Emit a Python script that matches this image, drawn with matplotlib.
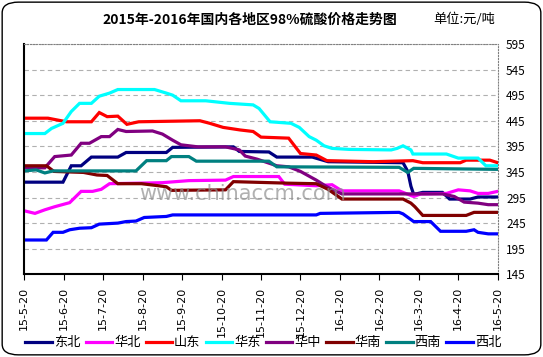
import matplotlib
matplotlib.use("Agg")
import matplotlib.pyplot as plt
from matplotlib.patches import FancyBboxPatch

plt.rcParams['font.family'] = ['Noto Sans CJK SC', 'DejaVu Sans']

# x = months since 2015-05-20, y = price (yuan/ton)
tick_labels = ['15-5-20', '15-6-20', '15-7-20', '15-8-20', '15-9-20', '15-10-20',
               '15-11-20', '15-12-20', '16-1-20', '16-2-20', '16-3-20', '16-4-20', '16-5-20']

dongbei_x = [0, 0.98, 1.19, 1.44, 1.7, 2.37, 2.58, 3.6, 3.76, 5.3, 5.45, 6.2, 6.4, 7.3, 7.7, 9.6, 9.72, 9.8, 9.87, 10.1, 10.6, 10.78, 11.3, 11.5, 12]
dongbei_y = [325, 325, 357, 357, 374, 374, 383, 383, 393, 394, 385, 384, 374, 374, 365, 363, 346, 317, 301, 305, 305, 292, 292, 296, 296]

huabei_x = [0, 0.27, 0.52, 0.77, 1.15, 1.44, 1.73, 1.95, 2.16, 2.9, 3.5, 4.17, 5.1, 5.3, 6.45, 6.6, 7.4, 7.8, 8.05, 9.5, 9.7, 9.87, 10.05, 10.7, 11.0, 11.3, 11.5, 11.76, 12]
huabei_y = [269, 264, 271, 277, 285, 307, 307, 311, 322, 323, 324, 328, 329, 336, 336, 321, 318, 320, 308, 308, 302, 297, 302, 303, 310, 308, 303, 303, 307]

shandong_x = [0, 0.6, 1.07, 1.7, 1.9, 2.1, 2.37, 2.6, 2.9, 4.45, 4.7, 5.04, 5.47, 5.8, 6.0, 6.7, 7.0, 7.4, 7.67, 8.85, 9.85, 10.1, 11.05, 11.2, 11.8, 12]
shandong_y = [450, 450, 443, 443, 461, 453, 454, 438, 443, 445, 440, 432, 427, 424, 413, 411, 381, 378, 367, 365, 367, 363, 363, 368, 368, 363]

huadong_x = [0, 0.52, 0.69, 0.98, 1.19, 1.4, 1.7, 1.9, 2.16, 2.37, 3.3, 3.6, 3.76, 3.97, 4.6, 5.2, 5.8, 5.95, 6.23, 6.76, 6.97, 7.22, 7.4, 7.6, 7.8, 8.24, 9.3, 9.45, 9.6, 9.8, 9.85, 10.7, 11.0, 11.5, 11.7, 12]
huadong_y = [420, 420, 430, 440, 463, 479, 479, 493, 499, 506, 506, 499, 495, 484, 484, 479, 476, 469, 443, 440, 432, 414, 407, 396, 391, 389, 388, 391, 396, 388, 380, 380, 372, 372, 357, 357]

huazhong_x = [0, 0.52, 0.77, 1.19, 1.44, 1.65, 1.95, 2.16, 2.37, 2.58, 3.25, 3.5, 3.76, 3.97, 4.4, 5.1, 5.45, 5.6, 5.9, 6.4, 6.7, 7.0, 7.4, 7.67, 8.05, 10.6, 10.9, 11.15, 11.5, 11.76, 12]
huazhong_y = [353, 353, 375, 378, 401, 401, 414, 414, 428, 424, 425, 419, 407, 398, 394, 394, 388, 376, 370, 357, 355, 346, 329, 316, 302, 302, 297, 286, 284, 281, 281]

huanan_x = [0, 0.56, 0.75, 1.5, 1.84, 2.1, 2.37, 2.97, 3.4, 3.6, 3.73, 5.1, 5.3, 6.7, 7.4, 7.7, 8.05, 9.6, 9.8, 9.9, 10.1, 11.2, 11.4, 12]
huanan_y = [357, 357, 346, 344, 339, 338, 322, 322, 318, 316, 309, 310, 326, 323, 322, 311, 292, 292, 284, 277, 260, 260, 266, 266]

xinan_x = [0, 0.3, 0.52, 0.73, 2.83, 3.1, 3.6, 3.73, 4.17, 4.36, 6.2, 6.4, 9.5, 9.72, 9.87, 12]
xinan_y = [347, 349, 343, 347, 347, 367, 367, 375, 375, 366, 366, 355, 354, 344, 352, 350]

xibei_x = [0, 0.56, 0.73, 0.98, 1.15, 1.4, 1.7, 1.9, 2.37, 2.58, 2.83, 3.04, 3.6, 3.76, 7.4, 7.5, 9.5, 9.6, 9.87, 10.3, 10.55, 11.2, 11.4, 11.5, 11.76, 12]
xibei_y = [212, 212, 227, 227, 232, 235, 236, 243, 245, 248, 249, 256, 258, 261, 261, 264, 266, 263, 248, 248, 229, 229, 232, 227, 224, 224]

series = [
    ('东北', dongbei_x, dongbei_y, '#000080'),
    ('华北', huabei_x, huabei_y, '#ff00ff'),
    ('山东', shandong_x, shandong_y, '#ff0000'),
    ('华东', huadong_x, huadong_y, '#00ffff'),
    ('华中', huazhong_x, huazhong_y, '#800080'),
    ('华南', huanan_x, huanan_y, '#800000'),
    ('西南', xinan_x, xinan_y, '#008080'),
    ('西北', xibei_x, xibei_y, '#0000ff'),
]

fig = plt.figure(figsize=(5.43, 3.57), dpi=100)
fig.patch.set_facecolor('white')
fig.patches.append(FancyBboxPatch((0.004, 0.006), 0.992, 0.988, boxstyle='round,pad=0,rounding_size=0.03',
                                  transform=fig.transFigure, fill=False, edgecolor='black', linewidth=1))

ax = fig.add_axes([0.0448, 0.2317, 0.8718, 0.6451])
for name, xs, ys, c in series:
    ax.plot(xs, ys, color=c, linewidth=2.3, label=name, solid_joinstyle='miter')

ax.set_xlim(0, 12)
ax.set_ylim(145, 595)
ax.set_yticks(range(145, 596, 50))
ax.yaxis.tick_right()
ax.tick_params(axis='y', length=0, labelsize=8.5, pad=6)
ax.set_xticks(range(13))
ax.set_xticklabels(tick_labels, rotation=90, fontsize=8, family=['DejaVu Sans'])
ax.tick_params(axis='x', length=4, direction='out', pad=5)
ax.grid(axis='y', color='#b0b0b0', linestyle=(0, (4, 3)), linewidth=0.8)
ax.set_axisbelow(True)
for s in ['top', 'right']:
    ax.spines[s].set_color('#808080')
    ax.spines[s].set_linestyle(':')
for s in ['left', 'bottom']:
    ax.spines[s].set_color('black')
    ax.spines[s].set_linewidth(1.5)

ax.text(0.46, 0.35, 'www.chinaccm.com', transform=ax.transAxes, ha='center', va='center',
        fontsize=15, color='#909090', alpha=0.7, family=['DejaVu Sans'])

fig.text(0.46, 0.945, '2015年-2016年国内各地区98%硫酸价格走势图', ha='center', va='center',
         fontsize=10, fontweight='bold')
fig.text(0.855, 0.945, '单位:元/吨', ha='center', va='center', fontsize=9.5)

fig.legend(loc='center', bbox_to_anchor=(0.485, 0.04), ncol=8, frameon=False, fontsize=9.5,
           handlelength=2.0, handletextpad=0.15, columnspacing=0.4, borderpad=0.2)

fig.savefig('out.png', dpi=100)
